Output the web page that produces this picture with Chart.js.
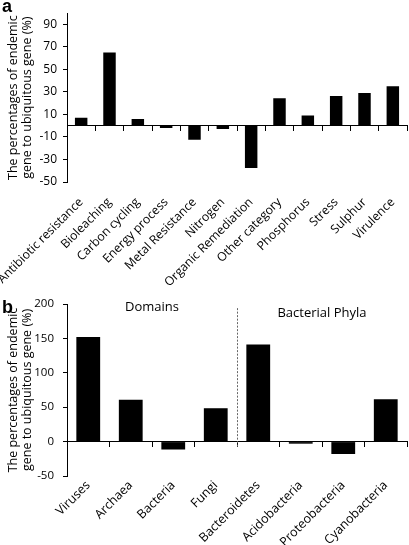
<!DOCTYPE html>
<html>
<head>
<meta charset="utf-8">
<script src="https://cdn.jsdelivr.net/npm/chart.js@4.4.1/dist/chart.umd.min.js"></script>
<style>
  html, body { margin: 0; padding: 0; background: #fff; }
  #wrap { position: relative; width: 409px; height: 545px; }
  canvas { position: absolute; left: 0; }
  #chartA { top: 0; }
  #chartB { top: 285px; }
  .tag { position: absolute; left: 2px; font: bold 18px "Liberation Sans", Arial, sans-serif; color: #000; line-height: 1; }
</style>
</head>
<body>
<div id="wrap">
  <canvas id="chartA" width="409" height="285"></canvas>
  <canvas id="chartB" width="409" height="260"></canvas>
  <div class="tag" style="top:-3px">a</div>
  <div class="tag" style="top:298px">b</div>
</div>
<script>
// panel a - functional categories
const catsA = ['Antibiotic resistance', 'Bioleaching', 'Carbon cycling', 'Energy process', 'Metal Resistance',
  'Nitrogen', 'Organic Remediation', 'Other category', 'Phosphorus', 'Stress', 'Sulphur', 'Virulence'];
const valsA = [7, 65, 6, -2, -12.5, -3, -37.5, 24.5, 9, 26.5, 29, 35];
const ticksA = [-50, -30, -10, 10, 30, 50, 70, 90];

// panel b - taxa
const catsB = ['Viruses', 'Archaea', 'Bacteria', 'Fungi', 'Bacteroidetes', 'Acidobacteria', 'Proteobacteria', 'Cyanobacteria'];
const valsB = [152, 61, -11.5, 48.5, 141, -3, -18, 61.5];
const ticksB = [-50, 0, 50, 100, 150, 200];
const groupsB = ['Domains', 'Bacterial Phyla'];

const yTitle = ['The percentages of endemic', 'gene to ubiquitous gene (%)'];
const FONT = '"Open Sans", sans-serif';

// Domains / Bacterial Phyla labels and the dotted divider
const groupPlugin = {
    id: 'groups',
    afterDatasetsDraw(chart) {
        if (!chart.options.plugins.groups) return;
        const ctx = chart.ctx;
        const x = chart.scales.x, y = chart.scales.y;
        const xs = x.getPixelForValue(3.5);
        ctx.save();
        ctx.strokeStyle = '#666';
        ctx.lineWidth = 1;
        ctx.setLineDash([2, 1.5]);
        ctx.beginPath();
        ctx.moveTo(Math.round(xs) + 0.5, y.getPixelForValue(194));
        ctx.lineTo(Math.round(xs) + 0.5, y.getPixelForValue(-9));
        ctx.stroke();
        ctx.setLineDash([]);
        ctx.fillStyle = '#000';
        ctx.font = '13px ' + FONT;
        ctx.textAlign = 'center';
        ctx.textBaseline = 'middle';
        ctx.fillText(groupsB[0], x.getPixelForValue(1.5), y.getPixelForValue(195));
        ctx.fillText(groupsB[1], x.getPixelForValue(5.5), y.getPixelForValue(186));
        ctx.restore();
    }
};

function makeChart(id, cats, vals, yTicks, yMin, yMax, opt) {
    const ctx = document.getElementById(id).getContext('2d');
    return new Chart(ctx, {
        type: 'bar',
        data: {
            labels: cats,
            datasets: [{
                data: vals,
                backgroundColor: '#000',
                borderWidth: 0,
                barPercentage: 1,
                categoryPercentage: opt.catPct
            }]
        },
        options: {
            responsive: false,
            animation: false,
            layout: { padding: { top: opt.top, right: 2, left: 0, bottom: 0 } },
            plugins: {
                legend: { display: false },
                tooltip: { enabled: false },
                groups: opt.groups || false
            },
            scales: {
                x: {
                    type: 'category',
                    position: 'bottom',
                    grid: { display: false, drawTicks: false },
                    border: { display: false },
                    afterFit: s => {
                        s.height = opt.xh;
                        // let the long first label hang into the y-axis area
                        s.paddingLeft = 0;
                        s.paddingRight = 0;
                    },
                    ticks: {
                        color: '#000',
                        font: { family: FONT, size: opt.labelSize },
                        minRotation: 45, maxRotation: 45,
                        autoSkip: false,
                        padding: opt.labelPad
                    }
                },
                x2: {
                    type: 'category',
                    labels: cats,
                    position: { y: 0 },
                    afterFit: s => { s.height = 0; s.paddingLeft = 0; s.paddingRight = 0; },
                    ticks: { display: false },
                    grid: { offset: true, drawOnChartArea: false, drawTicks: true, tickLength: 5, color: '#000' },
                    border: { display: true, color: '#000', width: 1 }
                },
                y: {
                    min: yMin, max: yMax,
                    afterBuildTicks: s => { s.ticks = yTicks.map(v => ({ value: v })); },
                    afterFit: s => { s.width = 67; },
                    grid: { drawOnChartArea: false, drawTicks: true, tickLength: 4, color: '#000' },
                    border: { display: true, color: '#000', width: 1 },
                    ticks: { color: '#000', font: { family: FONT, size: opt.tickSize }, padding: opt.tickPad },
                    title: {
                        display: true,
                        text: yTitle,
                        color: '#000',
                        font: { family: FONT, size: 12.5, lineHeight: 1.1 },
                        padding: { top: 7, bottom: 0 }
                    }
                }
            }
        },
        plugins: [groupPlugin]
    });
}

makeChart('chartA', catsA, valsA, ticksA, -50, 100,
    { catPct: 0.44, top: 6, xh: 103, labelSize: 12.2, labelPad: 13, tickSize: 12, tickPad: 6 });
makeChart('chartB', catsB, valsB, ticksB, -50, 200,
    { catPct: 0.56, top: 19, xh: 69, labelSize: 12.5, labelPad: 2, tickSize: 11.5, tickPad: 9, groups: true });
</script>
</body>
</html>
